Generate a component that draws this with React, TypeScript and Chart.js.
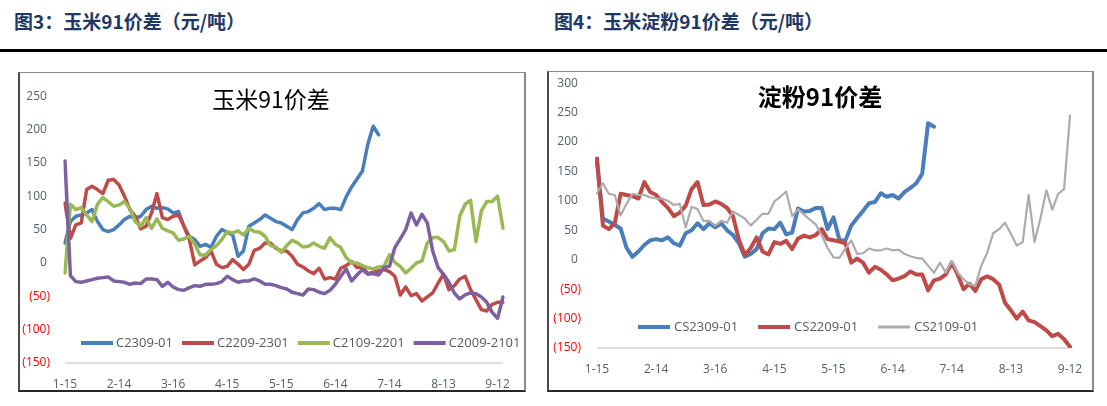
import React, { useEffect, useRef } from 'react';
import { Chart, registerables } from 'chart.js';

Chart.register(...registerables);
Chart.defaults.font.family = "'Open Sans', 'Noto Sans', sans-serif";

// ---------- shared x-axis ----------
const tickLabels = ['1-15', '2-14', '3-16', '4-15', '5-15', '6-14', '7-14', '8-13', '9-12'];
const STEP_DAYS = 3;
const TICK_EVERY = 10;

// ---------- chart 1: 玉米91价差 ----------
const c2309 = [30, 62, 70, 72, 75, 80, 62, 50, 47, 50, 57, 65, 70, 67, 70, 80, 85, 82, 83, 81,
  75, 77, 55, 40, 35, 25, 28, 23, 40, 50, 46, 42, 10, 18, 55, 60, 65, 72, 67, 62,
  60, 55, 50, 65, 75, 77, 82, 89, 80, 82, 82, 80, 99, 114, 126, 138, 178, 205, 192,
  null, null, null, null, null, null, null, null, null, null, null, null, null, null,
  null, null, null, null, null, null, null, null, null, null];
const c2209 = [90, 37, 57, 60, 110, 115, 110, 104, 124, 125, 117, 100, 80, 70, 51, 55, 75, 104, 68, 65,
  70, 72, 55, 35, -3, 3, 8, 18, -2, -7, -5, 5, -2, -10, -2, 19, 22, 30, 30, 22,
  18, 18, 10, -2, -6, -12, -16, -8, -24, -22, -24, -8, -4, 2, -7, -6, -16, -14, -12, -10,
  -13, -20, -48, -36, -49, -46, -57, -51, -45, -30, -17, -40, -34, -24, -20, -40, -55, -70, -72, -62,
  -59, -59];
const c2109 = [-15, 88, 80, 83, 72, 62, 88, 98, 92, 85, 87, 92, 82, 62, 55, 68, 52, 66, 52, 48,
  45, 34, 36, 40, 28, 12, 12, 20, 26, 35, 47, 45, 48, 42, 52, 47, 46, 40, 26, 24,
  16, 26, 34, 30, 24, 25, 30, 25, 22, 38, 28, 23, 8, 0, 0, -4, -7, -9, -6, -5,
  12, 1, -5, -15, -8, 0, 3, 30, 38, 38, 32, 18, 20, 70, 88, 94, 32, 78, 92, 92,
  100, 52];
const c2009 = [153, -19, -28, -29, -27, -25, -23, -22, -21, -27, -28, -29, -32, -30, -31, -24, -24, -25, -35, -29,
  -36, -40, -41, -37, -34, -35, -32, -32, -31, -28, -20, -25, -29, -27, -27, -24, -27, -32, -32, -34,
  -37, -39, -44, -46, -48, -39, -40, -44, -46, -41, -32, -20, -9, -27, -18, -10, -17, -16, -18, -7,
  -5, 23, 36, 50, 75, 57, 73, 60, 18, -7, -17, -29, -45, -54, -48, -45, -46, -51, -59, -74,
  -83, -51];

// ---------- chart 2: 淀粉91价差 ----------
const cs2309 = [165, 70, 65, 59, 53, 20, 5, 14, 25, 33, 35, 33, 38, 28, 24, 45, 50, 62, 52, 62,
  55, 62, 50, 42, 28, 5, 10, 18, 45, 53, 52, 63, 43, 46, 87, 82, 83, 88, 88, 52,
  72, 34, 32, 58, 71, 83, 96, 98, 113, 107, 110, 104, 115, 122, 130, 146, 232, 226,
  null, null, null, null, null, null, null, null, null, null, null, null, null, null,
  null, null, null, null, null, null, null, null, null];
const cs2209 = [172, 58, 52, 62, 112, 110, 108, 104, 132, 115, 110, 98, 88, 74, 80, 92, 120, 132, 93, 94,
  99, 95, 88, 74, 34, 8, 20, 38, 14, 9, 30, 27, 32, 18, 36, 41, 38, 42, 52, 35,
  33, 31, 28, -5, 2, -5, -22, -12, -17, -25, -35, -32, -28, -20, -25, -25, -52, -35, -32, -25,
  -5, -25, -50, -41, -53, -33, -28, -33, -42, -73, -86, -100, -88, -103, -106, -113, -120, -130, -126, -135,
  -148];
const cs2109 = [113, 130, 112, 110, 75, 95, 112, 110, 110, 106, 104, 104, 100, 93, 95, 55, 90, 86, 66, 66,
  58, 66, 63, 82, 76, 70, 58, 68, 78, 78, 99, 107, 116, 74, 86, 77, 68, 60, 42, 20,
  4, 3, 19, 33, 10, 11, 19, 16, 16, 19, 16, 17, 10, 6, 3, 2, -10, -22, -5, -22,
  -2, -22, -33, -42, -44, -10, 12, 45, 52, 63, 44, 24, 30, 110, 30, 70, 118, 85, 112, 120,
  245];

const BLUE = '#4A7EBB';
const RED = '#BE4B48';
const GREEN = '#98B954';
const PURPLE = '#7D60A0';
const GRAY = '#AFABAB';
const TICK_COLOR = '#56606C';
const LEGEND_COLOR = '#595959';

function makeCategories(n: number): string[] {
  const out: string[] = [];
  for (let i = 0; i < n; i++) {
    const d = new Date(2023, 0, 15 + i * STEP_DAYS);
    out.push(`${d.getMonth() + 1}-${d.getDate()}`);
  }
  return out;
}

const overlayPlugin = {
  id: 'overlay',
  afterDatasetsDraw(chart: any, _args: any, opts: any) {
    const { ctx, chartArea } = chart;
    ctx.save();
    ctx.fillStyle = '#000';
    ctx.font = opts.titleFont;
    ctx.textAlign = 'center';
    ctx.textBaseline = 'middle';
    ctx.fillText(opts.title, opts.titleX, opts.titleY);

    let x = chartArea.left + opts.legendOffset;
    const y = chartArea.bottom - opts.legendRise;
    ctx.font = opts.legendFont;
    ctx.textAlign = 'left';
    chart.data.datasets.forEach((ds: any) => {
      ctx.strokeStyle = ds.borderColor;
      ctx.lineWidth = ds.legendWidth || ds.borderWidth;
      ctx.lineCap = 'butt';
      ctx.beginPath();
      ctx.moveTo(x, y);
      ctx.lineTo(x + 32, y);
      ctx.stroke();
      x += 32 + opts.textGap;
      ctx.fillStyle = LEGEND_COLOR;
      ctx.fillText(ds.label, x, y + 0.5);
      x += ctx.measureText(ds.label).width + opts.itemGap;
    });
    ctx.restore();
  },
};

function line(label: string, data: (number | null)[], color: string, width: number, order: number, legendWidth: number) {
  return {
    label,
    data,
    borderColor: color,
    backgroundColor: color,
    borderWidth: width,
    legendWidth,
    pointRadius: 0,
    pointHoverRadius: 0,
    tension: 0,
    fill: false,
    spanGaps: false,
    borderJoinStyle: 'round',
    borderCapStyle: 'round',
    order,
  };
}

function makeConfig(p: {
  n: number; datasets: any[]; yMin: number; yMax: number; yWidth: number; yPad: number;
  padding: any; overlay: any;
}) {
  return {
    type: 'line',
    data: { labels: makeCategories(p.n), datasets: p.datasets },
    plugins: [overlayPlugin],
    options: {
      responsive: false,
      animation: false,
      devicePixelRatio: 1,
      events: [],
      layout: { padding: p.padding },
      plugins: {
        legend: { display: false },
        tooltip: { enabled: false },
        title: { display: false },
        overlay: p.overlay,
      },
      scales: {
        x: {
          grid: { display: false },
          border: { display: false },
          ticks: {
            autoSkip: false,
            maxRotation: 0,
            minRotation: 0,
            padding: 6,
            color: TICK_COLOR,
            font: { size: 12 },
            callback: (_v: any, i: number) => (i % TICK_EVERY === 0 ? tickLabels[i / TICK_EVERY] : ''),
          },
          afterFit: (s: any) => { s.height = 28; },
        },
        y: {
          min: p.yMin,
          max: p.yMax,
          grid: {
            drawTicks: false,
            lineWidth: 2,
            color: (c: any) => (c.tick && c.tick.value === p.yMin ? '#DEDEDE' : 'rgba(0,0,0,0)'),
          },
          border: { display: false },
          ticks: {
            stepSize: 50,
            padding: p.yPad,
            font: { size: 12 },
            color: (c: any) => (c.tick && c.tick.value < 0 ? '#FF0000' : TICK_COLOR),
            callback: (v: any) => (v < 0 ? `(${-v})` : `${v} `),
          },
          afterFit: (s: any) => { s.width = p.yWidth; },
        },
      },
    },
  };
}

function ChartCanvas({ config, left, top, width, height }: any) {
  const ref = useRef<HTMLCanvasElement | null>(null);
  useEffect(() => {
    if (!ref.current) return;
    const chart = new Chart(ref.current, config);
    return () => chart.destroy();
  }, []);
  return (
    <canvas
      ref={ref}
      width={width}
      height={height}
      style={{ position: 'absolute', left, top, width, height }}
    />
  );
}

const leftConfig = makeConfig({
  n: 82,
  datasets: [
    line('C2309-01', c2309, BLUE, 3.5, 4, 4),
    line('C2209-2301', c2209, RED, 3.5, 3, 4),
    line('C2109-2201', c2109, GREEN, 3.5, 2, 4),
    line('C2009-2101', c2009, PURPLE, 3.5, 1, 4),
  ],
  yMin: -150,
  yMax: 250,
  yWidth: 46,
  yPad: 15,
  padding: { top: 19, right: 22, bottom: 0, left: 0 },
  overlay: {
    title: '玉米91价差',
    titleFont: '400 23px "Noto Sans CJK SC", sans-serif',
    titleX: 252,
    titleY: 25,
    legendFont: '13px "Open Sans", sans-serif',
    legendOffset: 16,
    legendRise: 20,
    textGap: 3,
    itemGap: 9,
  },
});

const rightConfig = makeConfig({
  n: 81,
  datasets: [
    line('CS2309-01', cs2309, BLUE, 4, 3, 4),
    line('CS2209-01', cs2209, RED, 4, 2, 4),
    line('CS2109-01', cs2109, GRAY, 2.2, 1, 3),
  ],
  yMin: -150,
  yMax: 300,
  yWidth: 49,
  yPad: 16,
  padding: { top: 17, right: 23, bottom: 15, left: 0 },
  overlay: {
    title: '淀粉91价差',
    titleFont: '700 24px "Noto Sans CJK SC", sans-serif',
    titleX: 272,
    titleY: 37,
    legendFont: '13px "Open Sans", sans-serif',
    legendOffset: 41,
    legendRise: 21,
    textGap: 4,
    itemGap: 20,
  },
});

const headerStyle: React.CSSProperties = {
  position: 'absolute',
  top: 11,
  fontFamily: '"Noto Sans CJK SC", sans-serif',
  fontWeight: 700,
  fontSize: 19,
  lineHeight: '20px',
  color: '#1F3864',
  whiteSpace: 'nowrap',
};

const boxStyle: React.CSSProperties = {
  position: 'absolute',
  boxSizing: 'border-box',
  borderTop: '1px solid #8a8a8a',
  borderRight: '2px solid #8a8a8a',
  borderBottom: '2px solid #262626',
  borderLeft: '2px solid #4a4a4a',
  background: '#fff',
};

export default function App() {
  return (
    <div style={{ position: 'absolute', left: 0, top: 0, width: 1107, height: 406, background: '#fff', overflow: 'hidden' }}>
      <div style={{ ...headerStyle, left: 14 }}>图3：玉米91价差（元/吨）</div>
      <div style={{ ...headerStyle, left: 554 }}>图4：玉米淀粉91价差（元/吨）</div>
      <div style={{ position: 'absolute', left: 0, top: 49, width: 1107, height: 3, background: '#000' }} />
      <div style={{ ...boxStyle, left: 18, top: 72, width: 508, height: 320 }} />
      <div style={{ ...boxStyle, left: 547, top: 71, width: 547, height: 321 }} />
      <ChartCanvas config={leftConfig} left={19} top={74} width={506} height={317} />
      <ChartCanvas config={rightConfig} left={548} top={60} width={545} height={331} />
    </div>
  );
}
